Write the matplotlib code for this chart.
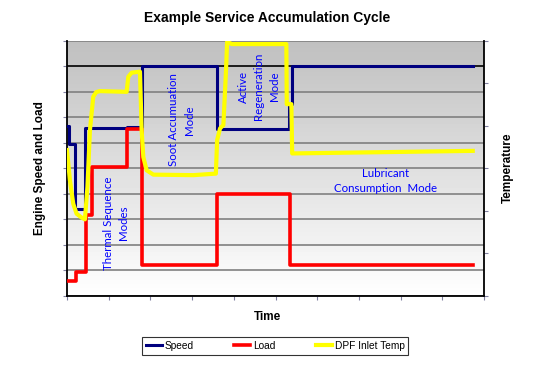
import numpy as np
import matplotlib
matplotlib.use("Agg")
import matplotlib.pyplot as plt

# step traces, x in time units (0-10), y in left-axis units (0-10)
speed_t = [0.0, 0.05, 0.05, 0.19, 0.19, 0.43, 0.43, 1.43, 1.43, 1.79, 1.79, 3.59, 3.59, 5.33, 5.33, 5.39, 5.39, 9.73]
speed_v = [6.66, 6.66, 5.93, 5.93, 3.39, 3.39, 6.58, 6.58, 6.63, 6.63, 9.0, 9.0, 6.52, 6.52, 7.5, 7.5, 9.0, 9.0]

load_t = [0.0, 0.22, 0.22, 0.45, 0.45, 0.59, 0.59, 1.43, 1.43, 1.79, 1.79, 3.59, 3.59, 5.35, 5.35, 9.73]
load_v = [0.58, 0.58, 0.92, 0.92, 3.16, 3.16, 5.04, 5.04, 6.53, 6.53, 1.2, 1.2, 4.0, 4.0, 1.2, 1.2]

temp_t = [0.0, 0.07, 0.15, 0.23, 0.34, 0.43, 0.49, 0.55, 0.63, 0.70, 0.79, 1.43, 1.47, 1.55, 1.75,
          1.79, 1.83, 1.91, 2.07, 3.03, 3.57, 3.60, 3.67, 3.75, 3.81, 3.84, 3.95, 5.26, 5.27,
          5.38, 5.40, 9.73]
temp_v = [5.71, 4.53, 3.61, 3.22, 3.08, 3.0, 4.27, 6.49, 7.8, 7.98, 8.02, 7.99, 8.58, 8.74, 8.78,
          6.49, 5.44, 4.92, 4.75, 4.73, 4.79, 6.10, 6.56, 6.69, 8.71, 9.95, 9.86, 9.86, 7.51,
          7.51, 5.58, 5.68]

fig = plt.figure(figsize=(5.34, 3.79), dpi=100)
ax = fig.add_axes([67 / 534, 1 - 296 / 379, 417 / 534, 255.5 / 379])

# gray-to-white background gradient
grad = np.linspace(1.0, 0.75, 256).reshape(-1, 1)
ax.imshow(grad, cmap="gray", vmin=0, vmax=1, aspect="auto",
          extent=[0, 10, 0, 10], origin="lower", zorder=0)

ax.set_xlim(0, 10)
ax.set_ylim(0, 10)
ax.set_xticks(np.arange(0, 11))
ax.set_yticks(np.arange(0, 11))
ax.set_xticklabels([])
ax.set_yticklabels([])
ax.grid(axis="y", color="#808080", lw=1.2, zorder=1)
ax.get_ygridlines()[9].set_color("black")
ax.tick_params(length=3, width=0.8, color="#8080a0")
ax.spines["top"].set_visible(False)
ax.spines["right"].set_visible(False)
for s in ("left", "bottom"):
    ax.spines[s].set_linewidth(1.3)

l1, = ax.plot(speed_t, speed_v, color="#00007f", lw=2.2, zorder=3, label="Speed")
l2, = ax.plot(load_t, load_v, color="#ff0000", lw=2.6, zorder=3, label="Load")

ax2 = ax.twinx()
ax2.set_ylim(0, 10)
ax2.set_yticks(np.linspace(0, 10, 7))
ax2.set_yticklabels([])
ax2.tick_params(length=3, width=0.8, color="#8080a0")
ax2.spines["top"].set_visible(False)
ax2.spines["left"].set_visible(False)
ax2.spines["bottom"].set_visible(False)
ax2.spines["right"].set_linewidth(1.3)
l3, = ax2.plot(temp_t, temp_v, color="#ffff00", lw=3.0, zorder=4, label="DPF Inlet Temp")

mode_font = dict(color="#0000ff", fontsize=8.3, family="Lato", ha="center", va="center",
                 linespacing=1.5)
ax2.text(1.18, 2.85, "Thermal Sequence\nModes", rotation=90, **mode_font)
ax2.text(2.74, 6.9, "Soot Accumuation\nMode", rotation=90, **mode_font)
ax2.text(4.6, 8.2, "Active\nRegeneration\nMode", rotation=90, **mode_font)
ax2.text(7.63, 4.5, "Lubricant\nConsumption  Mode", **mode_font)

fig.text(0.5, 1 - 18 / 379, "Example Service Accumulation Cycle", ha="center", va="center",
         fontsize=10, fontweight="bold", family="Liberation Sans")
fig.text(40 / 534, 1 - 168 / 379, "Engine Speed and Load", rotation=90, ha="center",
         va="center", fontsize=8.5, fontweight="bold", family="Liberation Sans")
fig.text(508 / 534, 1 - 168 / 379, "Temperature", rotation=90, ha="center",
         va="center", fontsize=8.5, fontweight="bold", family="Liberation Sans")
fig.text(268 / 534, 1 - 317 / 379, "Time", ha="center", va="center",
         fontsize=8.5, fontweight="bold", family="Liberation Sans")

leg = fig.legend(handles=[l1, l2, l3], loc="center", ncol=3,
                 bbox_to_anchor=(275 / 534, 1 - 346 / 379),
                 prop={"family": "Liberation Sans", "size": 7.3},
                 frameon=True, fancybox=False, handlelength=1.6, handletextpad=0.25,
                 columnspacing=4.0, borderpad=0.35, borderaxespad=0)
leg.get_frame().set_edgecolor("black")
leg.get_frame().set_linewidth(0.8)

fig.savefig("out.png", dpi=100)
